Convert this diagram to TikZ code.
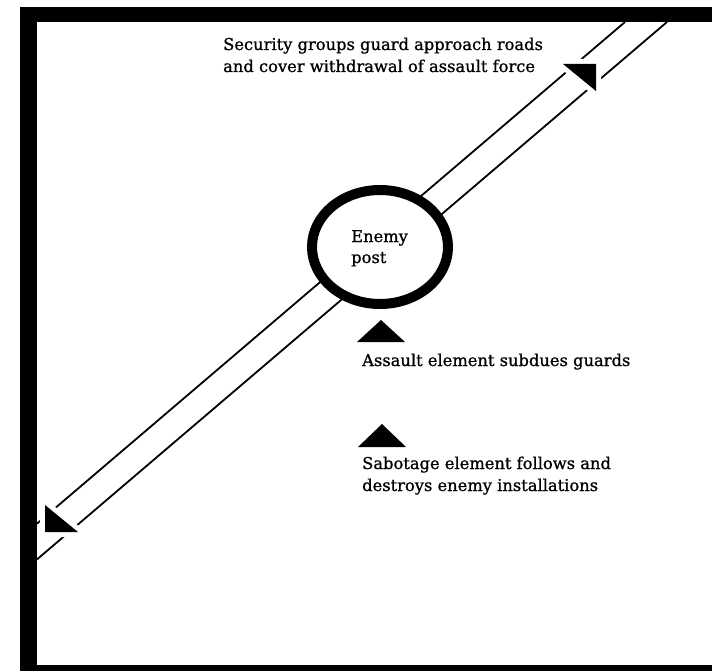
\documentclass[tikz,border=0pt]{standalone}
\usepackage{fontspec}
\setmainfont{DejaVu Serif}
\newfontfamily\lblfont{DejaVu Serif}[FakeBold=0.9]
\usetikzlibrary{shapes.geometric}
\begin{document}
\begin{tikzpicture}[x=1pt,y=-1pt,
  road/.style={line width=1.8pt},
  lbl/.style={anchor=base west,inner sep=0pt,font=\lblfont\fontsize{16.3}{20}\selectfont},
  blockflag/.style={fill=black,preaction={draw=white,line width=10pt,line join=round}},
  elem/.style={fill=black}]
\useasboundingbox (0,0) rectangle (712,671);
\fill[white] (0,0) rectangle (712,671);
% road
\coordinate (u1) at (625,22);
\coordinate (u2) at (37,523.6);
\coordinate (l1) at (667,22);
\coordinate (l2) at (37,559.4);
\draw[road] (u1) -- (u2);
\draw[road] (l1) -- (l2);
% enemy post
\node[ellipse,draw,line width=10pt,fill=white,minimum width=136pt,minimum height=114pt,inner sep=0pt] (post) at (380,247) {};
\node[lbl] (enemy) at (351,242) {Enemy};
\node[lbl] (postlbl) at (351,263) {post};
% security blocking positions
\path[blockflag] (563,64) -- (596,64) -- (596,91) -- cycle;
\path[blockflag] (45,505) -- (45,532) -- (78,532) -- cycle;
% assault and sabotage elements
\path[elem] (357,342) -- (405,342) -- (381,320) -- cycle;
\path[elem] (358,447) -- (406,447) -- (382,424) -- cycle;
% labels
\node[lbl] (sec1) at (223,50) {Security groups guard approach roads};
\node[lbl] (sec2) at (223,72) {and cover withdrawal of assault force};
\node[lbl] (asl) at (362,366) {Assault element subdues guards};
\node[lbl] (sab1) at (362,469) {Sabotage element follows and};
\node[lbl] (sab2) at (362,491) {destroys enemy installations};
% frame
\fill (20,7) rectangle (712,22);
\fill (20,7) rectangle (37,671);
\fill (20,665) rectangle (712,671);
\end{tikzpicture}
\end{document}
